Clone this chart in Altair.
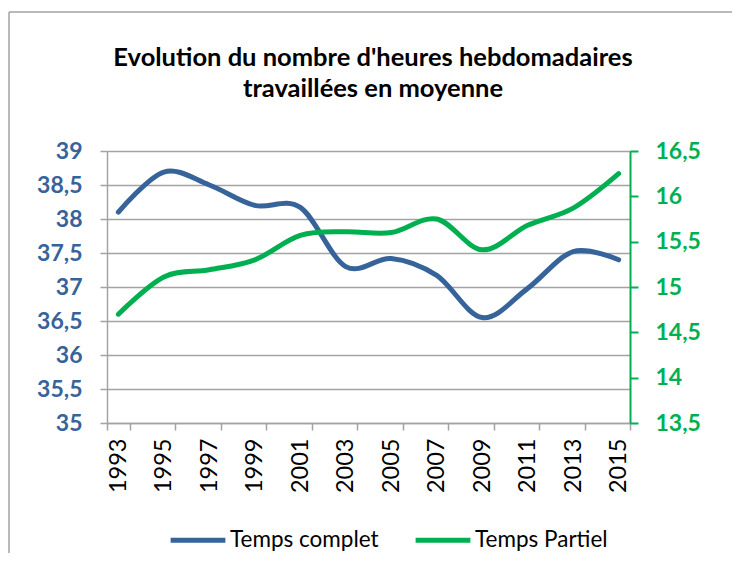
import altair as alt
import pandas as pd

# ---- data ----
all_years = list(range(1993, 2016))
years = [1993, 1995, 1997, 1999, 2001, 2003, 2005, 2007, 2009, 2011, 2013, 2015]
temps_complet = [38.1, 38.69, 38.5, 38.2, 38.17, 37.3, 37.42, 37.17, 36.55, 36.98, 37.52, 37.4]
temps_partiel = [14.7, 15.11, 15.19, 15.3, 15.57, 15.61, 15.6, 15.75, 15.41, 15.68, 15.87, 16.25]
series = ["Temps complet", "Temps Partiel"]
left_ticks = [35, 35.5, 36, 36.5, 37, 37.5, 38, 38.5, 39]
right_ticks = [13.5, 14, 14.5, 15, 15.5, 16, 16.5]
title_lines = ["Evolution du nombre d'heures hebdomadaires", "travaillées en moyenne"]

BLUE = "#366399"
GREEN = "#00B050"
GRAY = "#A3A3A3"
FONT = "Lato"

df = pd.DataFrame({
    "annee": years * 2,
    "valeur": temps_complet + temps_partiel,
    "serie": [series[0]] * len(years) + [series[1]] * len(years),
})

comma_expr = "replace(format(datum.value, '.1~f'), '.', ',')"

x_enc = alt.X(
    "annee:O",
    bandPosition=0.5,
    scale=alt.Scale(type="band", domain=all_years, paddingInner=0, paddingOuter=0),
    axis=alt.Axis(
        values=years, title=None, labelAngle=-90, tickBand="extent",
        labelFont=FONT, labelFontSize=23.5, labelColor="#000000",
        labelPadding=8, tickSize=7, tickColor=GRAY, tickWidth=1.5,
        domainColor=GRAY, domainWidth=1.5, grid=False,
    ),
)

color_enc = alt.Color(
    "serie:N",
    scale=alt.Scale(domain=series, range=[BLUE, GREEN]),
    legend=alt.Legend(
        title=None, orient="none", legendX=61, legendY=359, direction="horizontal",
        symbolType="stroke", symbolStrokeWidth=5, symbolSize=3000,
        labelFont=FONT, labelFontSize=22.5, labelColor="#000000", labelLimit=300,
        labelOffset=2, columnPadding=26,
    ),
)

base = alt.Chart(df)

blue = base.transform_filter(alt.datum.serie == series[0]).mark_line(
    interpolate="cardinal", tension=0, strokeWidth=5, strokeCap="round"
).encode(
    x=x_enc,
    y=alt.Y(
        "valeur:Q",
        scale=alt.Scale(domain=[35, 39], nice=False, zero=False),
        axis=alt.Axis(
            orient="left", values=left_ticks, title=None, labelExpr=comma_expr,
            labelFont=FONT, labelFontSize=23, labelFontWeight="bold", labelColor=BLUE,
            labelPadding=18, tickSize=7, tickColor=GRAY, tickWidth=1.5,
            domainColor=GRAY, domainWidth=1.5,
            grid=True, gridColor=GRAY, gridWidth=1.5,
        ),
    ),
    color=color_enc,
)

green = base.transform_filter(alt.datum.serie == series[1]).mark_line(
    interpolate="cardinal", tension=0, strokeWidth=5, strokeCap="round"
).encode(
    x=x_enc,
    y=alt.Y(
        "valeur:Q",
        scale=alt.Scale(domain=[13.5, 16.5], nice=False, zero=False),
        axis=alt.Axis(
            orient="right", values=right_ticks, title=None, labelExpr=comma_expr,
            labelFont=FONT, labelFontSize=23, labelFontWeight="bold", labelColor=GREEN,
            labelPadding=17, tickSize=8, tickColor=GREEN, tickWidth=2,
            domainColor=GREEN, domainWidth=2, grid=False,
        ),
    ),
    color=color_enc,
)

frame_src = alt.Chart(pd.DataFrame({"k": [0]}))
left_border = frame_src.mark_rule(color=GRAY, strokeWidth=1.5).encode(
    x=alt.value(-98), y=alt.value(-139), y2=alt.value(402)
)
top_border = frame_src.mark_rule(color=GRAY, strokeWidth=1.5).encode(
    x=alt.value(-98), x2=alt.value(625), y=alt.value(-139)
)
title_text = frame_src.mark_text(
    font=FONT, fontSize=25.5, fontWeight="bold", color="#000000",
    align="center", baseline="alphabetic", lineHeight=31,
).encode(
    x=alt.value(266), y=alt.value(-85), text=alt.value(title_lines)
)

chart = alt.layer(blue, green, left_border, top_border, title_text).resolve_scale(
    y="independent"
).properties(
    width=523,
    height=272,
    padding={"left": 0, "top": 3, "right": 0, "bottom": 0},
).configure_view(stroke=None).configure(background="#FFFFFF")

chart.save("out.html", embed_options={"renderer": "svg", "actions": False})
